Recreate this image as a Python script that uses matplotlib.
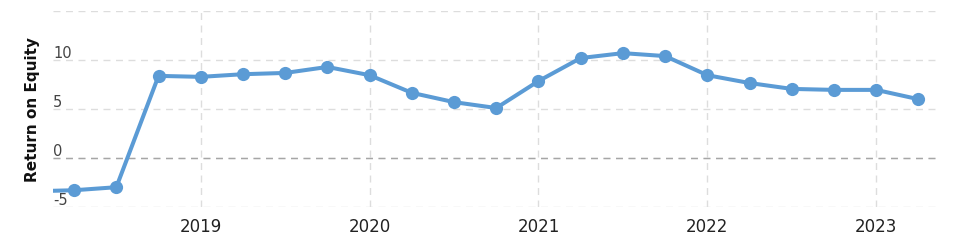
import numpy as np
import matplotlib
matplotlib.use('Agg')
import matplotlib.pyplot as plt
from matplotlib.transforms import ScaledTranslation

# Quarterly return on equity (%)
quarters = [2018.0, 2018.25, 2018.5, 2018.75,
            2019.0, 2019.25, 2019.5, 2019.75,
            2020.0, 2020.25, 2020.5, 2020.75,
            2021.0, 2021.25, 2021.5, 2021.75,
            2022.0, 2022.25, 2022.5, 2022.75,
            2023.0, 2023.25]
roe = [-3.4, -3.29, -2.98, 8.38,
       8.28, 8.55, 8.68, 9.29,
       8.45, 6.65, 5.7, 5.1,
       7.85, 10.2, 10.7, 10.4,
       8.45, 7.65, 7.05, 6.95,
       6.95, 6.0]

year_ticks = [2019, 2020, 2021, 2022, 2023]
year_labels = ['2019', '2020', '2021', '2022', '2023']
y_ticks = [-5, 0, 5, 10, 15]
y_labels = ['-5', '0', '5', '10', '']

fig = plt.figure(figsize=(9.58, 2.41), dpi=100)
ax = fig.add_axes([53 / 958, 34 / 241, 884 / 958, 196 / 241])

ax.plot(quarters, roe, color='#5b9bd5', lw=2.9, marker='o', ms=9.5,
        markeredgewidth=0, solid_capstyle='round', zorder=3)

ax.set_xlim(2018.125, 2023.36)
ax.set_ylim(-5, 15)

ax.set_xticks(year_ticks)
ax.set_xticklabels(year_labels, fontsize=12, color='#222222')
ax.set_yticks(y_ticks)
ax.set_yticklabels(y_labels, fontsize=10.5, color='#444444')

# grid
ax.grid(True, axis='x', color='#dddddd', ls=(0, (5, 4)), lw=1, zorder=0)
ax.grid(True, axis='y', color='#dddddd', ls=(0, (5, 4)), lw=1, zorder=0)
ax.axhline(0, color='#a6a6a6', ls=(0, (5, 4)), lw=1, zorder=2)

for s in ax.spines.values():
    s.set_visible(False)
ax.tick_params(length=0)
ax.tick_params(axis='x', pad=8)

# y labels sit inside the plot, just above their gridline
for lab in ax.get_yticklabels():
    lab.set_horizontalalignment('left')
    lab.set_transform(lab.get_transform() + ScaledTranslation(0.05, 0.08, fig.dpi_scale_trans))

ax.set_ylabel('Return on Equity', fontsize=11, fontweight='bold', color='#111111')
ax.yaxis.set_label_coords(-13 / 884, 0.5)

fig.savefig('out.png', dpi=100)
